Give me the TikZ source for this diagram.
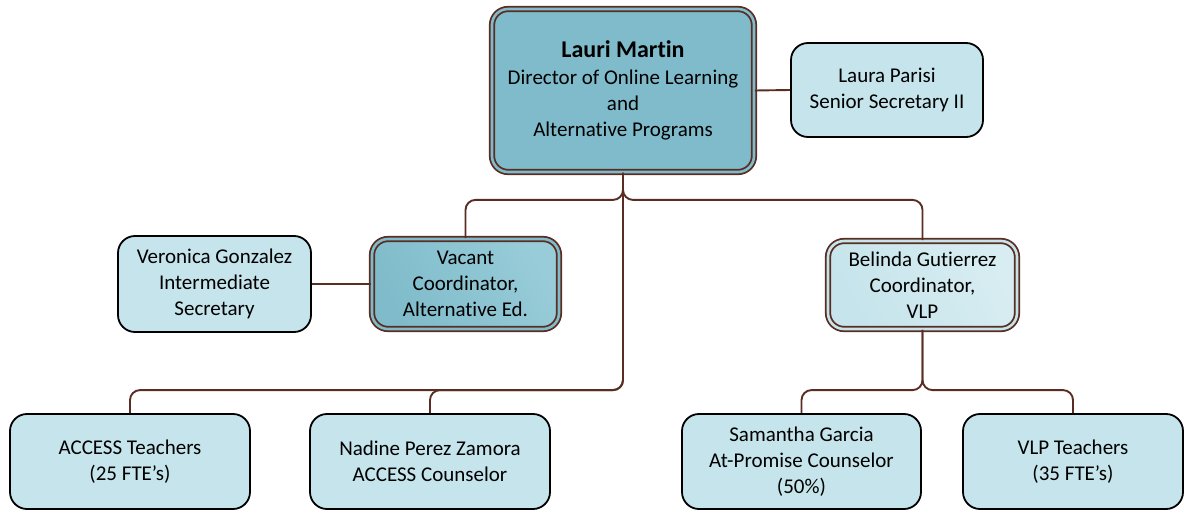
\documentclass[tikz,border=0pt]{standalone}
\usepackage{fontspec}
\setmainfont{Carlito}[Ligatures=NoCommon]
\begin{document}
\begin{tikzpicture}[x=1pt,y=-1pt]
\definecolor{brn}{RGB}{90,45,34}
\definecolor{lightbox}{RGB}{197,228,235}
\definecolor{darkbox}{RGB}{127,187,202}
\definecolor{darkboxlt}{RGB}{152,204,216}
\definecolor{lightboxlt}{RGB}{216,237,242}
\tikzset{
  txt/.style={align=center,font=\fontsize{21}{25.8}\selectfont,inner sep=0pt},
  plainbox/.style={txt,draw=black,line width=1.8pt,fill=lightbox,rounded corners=17pt},
  dblbox/.style={txt,draw=brn,line width=1.8pt,double distance=2.6pt,rounded corners=16pt},
  conn/.style={draw=brn,line width=1.9pt,rounded corners=10pt}
}
\useasboundingbox (0,0) rectangle (1184,516);
% top
\node[dblbox,fill=darkbox,double=darkbox,minimum width=262pt,minimum height=163pt] (lauri) at (623,90.5)
  {{\bfseries\fontsize{24}{29}\selectfont Lauri Martin}\\[1pt]Director of Online Learning\\and\\Alternative Programs};
\node[plainbox,minimum width=192pt,minimum height=94pt] (laura) at (887,90) {Laura Parisi\\Senior Secretary II};
% middle
\node[plainbox,minimum width=193pt,minimum height=96pt] (veronica) at (214.5,284) {Veronica Gonzalez\\Intermediate\\Secretary};
\node[dblbox,left color=darkbox,right color=darkboxlt,shading angle=120,double=darkbox,minimum width=187pt,minimum height=90pt] (vacant) at (465.5,284) {Vacant\\Coordinator,\\Alternative Ed.};
\node[dblbox,left color=lightbox,right color=lightboxlt,shading angle=120,double=lightbox,minimum width=189pt,minimum height=88pt] (belinda) at (922.5,285) {Belinda Gutierrez\\Coordinator,\\VLP};
% bottom
\node[plainbox,minimum width=240pt,minimum height=95pt] (access) at (130,461.5) {ACCESS Teachers\\(25 FTE’s)};
\node[plainbox,minimum width=240pt,minimum height=95pt] (nadine) at (430,461.5) {Nadine Perez Zamora\\ACCESS Counselor};
\node[plainbox,minimum width=239pt,minimum height=95pt] (samantha) at (801.5,461.5) {Samantha Garcia\\At-Promise Counselor\\(50\%)};
\node[plainbox,minimum width=220pt,minimum height=95pt] (vlp) at (1073,461.5) {VLP Teachers\\(35 FTE’s)};
% connectors
\draw[conn] (lauri.east) -- (laura.west);
\draw[conn] (veronica.east) -- (vacant.west);
\draw[conn] (lauri.south) -- ++(0,27) -| (vacant.north);
\draw[conn] (lauri.south) -- ++(0,27) -| (belinda.north);
\draw[conn] (lauri.south) |- ([yshift=23pt]access.north) -- (access.north);
\draw[conn] (lauri.south) |- ([yshift=23pt]nadine.north) -- (nadine.north);
\draw[conn] (belinda.south) |- ([yshift=23pt]samantha.north) -- (samantha.north);
\draw[conn] (belinda.south) |- ([yshift=23pt]vlp.north) -- (vlp.north);
\end{tikzpicture}
\end{document}
